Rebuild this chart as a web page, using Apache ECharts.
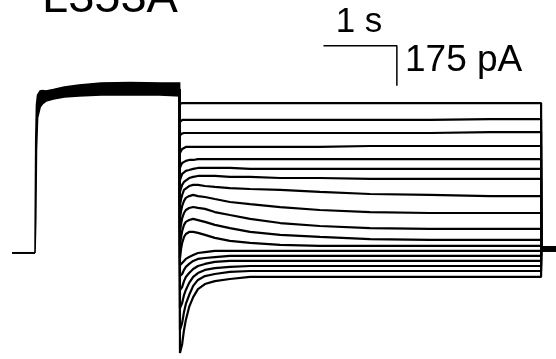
<!DOCTYPE html>
<html>
<head>
<meta charset="utf-8">
<script src="https://cdn.jsdelivr.net/npm/echarts@6/dist/echarts.min.js"></script>
<style>
  html, body { margin: 0; padding: 0; background: #fff; }
  #chart { width: 556px; height: 359px; }
</style>
</head>
<body>
<div id="chart"></div>
<script>
// Time in ms (0 = onset of the activating step), current in pA.
const holdingTimes = [-313, 0];
const holdingCurrent = [0, 0];

// Activating step: envelope of the overlapping sweeps (upper / lower edge)
const stepTimes = [0, 10, 20, 35, 70, 100, 150, 250, 400, 600, 900, 1300, 1700, 1970];
const stepUpper = [0, 494, 648, 691, 709, 711, 709, 715, 726, 735, 744, 746, 744, 744];
const stepLower = [0, 144, 451, 591, 639, 652, 665, 674, 683, 687, 691, 691, 691, 687];

const stepEndTime = 1970;
const stepEndCurrent = 717;

// Tail currents during the test pulses
const tailTimes = [1975, 1990, 2005, 2030, 2055, 2100, 2155, 2220, 2315, 2450, 2655, 2930, 3340, 3880, 4565, 5380, 6200, 6895];

const sweep01 = [652, 656, 656, 656, 656, 656, 656, 656, 656, 656, 656, 656, 656, 656, 656, 656, 656, 656];
const sweep02 = [573, 578, 582, 582, 582, 582, 582, 582, 582, 582, 582, 582, 582, 582, 582, 582, 586, 586];
const sweep03 = [512, 521, 525, 525, 525, 525, 525, 525, 525, 525, 525, 525, 525, 525, 525, 525, 529, 529];
const sweep04 = [438, 446, 455, 459, 464, 464, 464, 464, 464, 464, 464, 464, 464, 464, 468, 468, 468, 468];
const sweep05 = [372, 385, 394, 398, 403, 407, 407, 411, 411, 411, 411, 411, 411, 411, 411, 411, 411, 411];
const sweep06 = [319, 333, 346, 354, 359, 363, 368, 372, 372, 372, 372, 368, 368, 368, 368, 368, 368, 368];
const sweep07 = [267, 284, 298, 311, 319, 328, 333, 337, 337, 337, 333, 333, 328, 328, 324, 324, 324, 324];
const sweep08 = [210, 236, 254, 276, 284, 293, 298, 298, 293, 289, 284, 280, 276, 267, 258, 254, 249, 249];
const sweep09 = [153, 184, 206, 228, 241, 249, 254, 249, 245, 236, 223, 214, 201, 188, 179, 175, 175, 175];
const sweep10 = [92, 127, 153, 175, 188, 197, 201, 197, 193, 179, 166, 149, 131, 118, 109, 105, 105, 105];
const sweep11 = [35, 70, 96, 123, 136, 144, 149, 144, 136, 123, 109, 92, 79, 70, 61, 57, 57, 57];
const sweep12 = [-22, 18, 44, 70, 83, 92, 92, 88, 79, 66, 53, 44, 35, 31, 31, 31, 31, 31];
const sweep13 = [-53, -53, -44, -35, -26, -18, -9, 0, 4, 9, 9, 9, 9, 9, 9, 9, 9, 9];
const sweep14 = [-101, -101, -92, -74, -61, -48, -35, -26, -22, -18, -13, -13, -13, -13, -13, -13, -13, -13];
const sweep15 = [-162, -162, -149, -123, -105, -88, -70, -57, -48, -39, -35, -35, -35, -35, -35, -35, -35, -35];
const sweep16 = [-241, -241, -219, -184, -162, -131, -105, -88, -74, -66, -61, -57, -57, -57, -57, -57, -57, -57];
const sweep17 = [-337, -337, -306, -258, -223, -184, -144, -118, -101, -92, -83, -79, -79, -79, -79, -79, -79, -79];
const sweep18 = [-438, -438, -398, -337, -293, -236, -193, -158, -136, -123, -114, -105, -105, -105, -105, -105, -105, -105];

const sweeps = [sweep01, sweep02, sweep03, sweep04, sweep05, sweep06, sweep07, sweep08, sweep09,
                sweep10, sweep11, sweep12, sweep13, sweep14, sweep15, sweep16, sweep17, sweep18];

// Return to holding potential
const returnTimes = [6897, 7098];
const returnCurrent = [17.5, 17.5];

// Scale bar: 1 s horizontal, 175 pA vertical
const scaleBarTimes = [3930, 4930, 4930];
const scaleBarCurrents = [907, 907, 732];
const scaleBarLabels = ['1 s', '175 pA'];
const panelTitle = 'L353A';

const FONT = '"Liberation Sans", Arial, sans-serif';
const zip = (xs, ys) => xs.map((x, i) => [x, ys[i]]);

const traceStyle = { color: '#000', width: 2.2 };

const series = [];

series.push({
  type: 'line', data: zip(holdingTimes, holdingCurrent), showSymbol: false,
  lineStyle: { color: '#000', width: 2 }, silent: true
});

series.push({
  type: 'custom',
  data: stepTimes.map((t, i) => [t, stepUpper[i], stepLower[i]]),
  encode: { x: 0, y: [1, 2] },
  renderItem: function (params, api) {
    if (params.dataIndex !== 0) return;
    const pts = [];
    for (let i = 0; i < stepTimes.length; i++) pts.push(api.coord([stepTimes[i], stepUpper[i]]));
    for (let i = stepTimes.length - 1; i >= 0; i--) pts.push(api.coord([stepTimes[i], stepLower[i]]));
    return { type: 'polygon', shape: { points: pts }, style: { fill: '#000', stroke: '#000', lineWidth: 1.6 } };
  },
  silent: true
});

sweeps.forEach(function (vals) {
  const data = [[stepEndTime, stepEndCurrent]].concat(zip(tailTimes, vals));
  data.push([returnTimes[0], returnCurrent[0]]);
  series.push({
    type: 'line', data: data, showSymbol: false,
    lineStyle: traceStyle, silent: true
  });
});

series.push({
  type: 'line', data: zip(returnTimes, returnCurrent), showSymbol: false,
  lineStyle: { color: '#000', width: 6 }, silent: true
});

series.push({
  type: 'line', data: zip(scaleBarTimes, scaleBarCurrents), showSymbol: false,
  lineStyle: { color: '#000', width: 1.5 }, silent: true
});

const chart = echarts.init(document.getElementById('chart'), null, { renderer: 'canvas' });
chart.setOption({
  animation: false,
  backgroundColor: '#fff',
  grid: { left: 0, right: 0, top: 0, bottom: 0 },
  xAxis: { type: 'value', min: -477, max: 7098, show: false },
  yAxis: { type: 'value', min: -464, max: 1107, show: false },
  series: series,
  graphic: [
    { type: 'text', x: 42, y: -1, silent: true,
      style: { text: panelTitle, font: '47px ' + FONT, fill: '#000', verticalAlign: 'middle', align: 'left' } },
    { type: 'text', x: 359, y: 22, silent: true,
      style: { text: scaleBarLabels[0], font: '35px ' + FONT, fill: '#000', verticalAlign: 'middle', align: 'center' } },
    { type: 'text', x: 405, y: 61, silent: true,
      style: { text: scaleBarLabels[1], font: '37px ' + FONT, fill: '#000', verticalAlign: 'middle', align: 'left' } }
  ]
});
</script>
</body>
</html>
